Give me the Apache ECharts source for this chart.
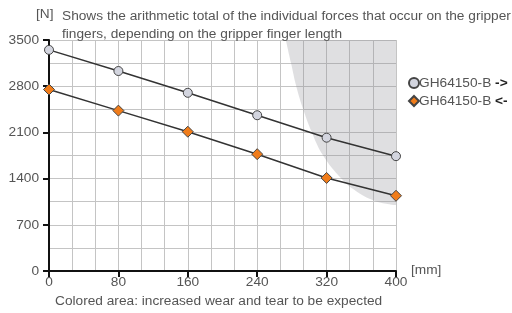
<!DOCTYPE html>
<html><head><meta charset="utf-8">
<script src="https://cdn.jsdelivr.net/npm/echarts@6/dist/echarts.min.js"></script>
<style>html,body{margin:0;padding:0;background:#fff}#c{width:512px;height:313px}</style>
</head><body><div id="c"></div>
<script>
const lengths = [0, 80, 160, 240, 320, 400];
const forceOut = [3350, 3030, 2700, 2360, 2020, 1740];
const forceIn = [2750, 2430, 2110, 1770, 1410, 1140];
const wearX = [273, 279, 285, 293, 303, 316, 337, 355, 378, 400];
const wearY = [3500, 3150, 2800, 2450, 2100, 1750, 1400, 1200, 1050, 1000];
const nameOut = 'GH64150-B ->';
const nameIn = 'GH64150-B <-';

const chart = echarts.init(document.getElementById('c'));
const font = 'Liberation Sans, Arial, sans-serif';
const fs = 13.7;
const txt = '#555';
const gridLine = {show: true, lineStyle: {color: '#c4c4c4', width: 1}};
const tstyle = {fontSize: fs, fontWeight: 'normal', color: txt, fontFamily: font};
chart.setOption({
  animation: false,
  textStyle: {fontFamily: font},
  grid: {left: 49, right: 116, top: 40, bottom: 42},
  title: [
    {text: '[N]', left: 36, top: 7, padding: 0, textStyle: tstyle},
    {text: 'Shows the arithmetic total of the individual forces that occur on the gripper\nfingers, depending on the gripper finger length', left: 62, top: 7, padding: 0,
      textStyle: Object.assign({lineHeight: 18}, tstyle)},
    {text: '[mm]', left: 411, top: 263, padding: 0, textStyle: tstyle},
    {text: 'Colored area: increased wear and tear to be expected', left: 55, top: 294, padding: 0, textStyle: tstyle}
  ],
  legend: {
    orient: 'vertical', left: 408, top: 76, padding: 0, itemGap: 4, itemWidth: 10, itemHeight: 10,
    formatter: function (n) {
      const parts = n.split(' ');
      return '{a|' + parts[0] + '} {b|' + parts[1] + '}';
    },
    textStyle: {fontSize: fs, color: txt, padding: [0, 0, 0, -5], fontFamily: font,
      rich: {a: {fontSize: fs, color: txt, fontFamily: font}, b: {fontSize: fs, color: '#222', fontWeight: 'bold', fontFamily: font}}},
    data: [{name: nameOut, icon: 'circle'}, {name: nameIn, icon: 'diamond'}]
  },
  xAxis: {
    type: 'value', min: 0, max: 400, interval: 80,
    axisLine: {show: true, onZero: false, lineStyle: {color: '#111', width: 2}},
    axisTick: {show: true, length: 6, lineStyle: {color: '#111', width: 2}},
    axisLabel: {color: txt, fontSize: fs, margin: 4, fontFamily: font, formatter: v => String(v)},
    splitLine: gridLine,
    minorTick: {show: false, splitNumber: 3},
    minorSplitLine: gridLine
  },
  yAxis: {
    type: 'value', min: 0, max: 3500, interval: 700,
    axisLine: {show: true, lineStyle: {color: '#111', width: 2}},
    axisTick: {show: true, length: 6, lineStyle: {color: '#111', width: 2}},
    axisLabel: {color: txt, fontSize: fs, margin: 10, fontFamily: font, formatter: v => String(v)},
    splitLine: gridLine,
    minorTick: {show: false, splitNumber: 2},
    minorSplitLine: gridLine
  },
  series: [
    {
      type: 'line', name: 'wear', smooth: 0.4, symbol: 'none', silent: true,
      data: wearX.map((x, i) => [x, wearY[i]]),
      lineStyle: {width: 0},
      areaStyle: {origin: 'end', color: 'rgba(140,140,148,0.4)'},
      z: 1
    },
    {
      type: 'line', name: nameOut, symbol: 'circle', symbolSize: 9,
      data: lengths.map((x, i) => [x, forceOut[i]]),
      lineStyle: {color: '#333', width: 1.5},
      itemStyle: {color: '#d3d5df', borderColor: '#444', borderWidth: 1},
      z: 3
    },
    {
      type: 'line', name: nameIn, symbol: 'diamond', symbolSize: 11,
      data: lengths.map((x, i) => [x, forceIn[i]]),
      lineStyle: {color: '#333', width: 1.5},
      itemStyle: {color: '#f07c1a', borderColor: '#444', borderWidth: 1},
      z: 3
    }
  ]
});
</script></body></html>
